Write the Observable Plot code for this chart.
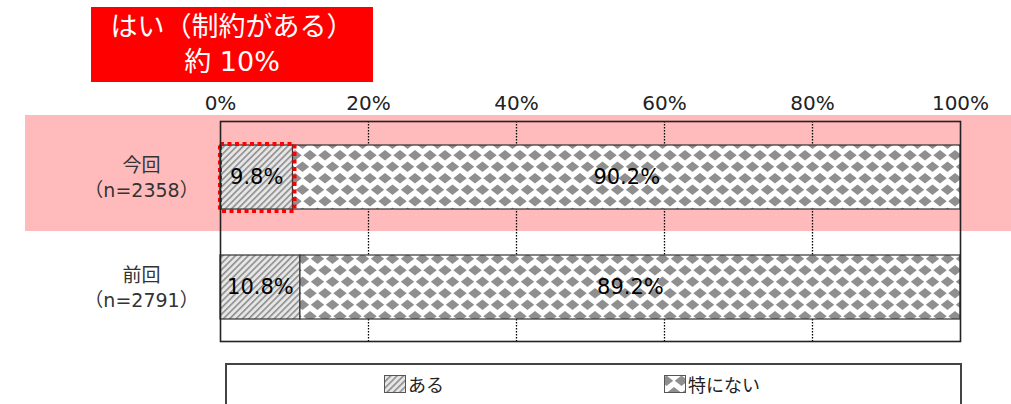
<!DOCTYPE html>
<html><head><meta charset="utf-8">
<script src="https://cdn.jsdelivr.net/npm/d3@7"></script>
<script src="https://cdn.jsdelivr.net/npm/@observablehq/plot@0.6"></script>
<style>
body{margin:0;background:#fff;font-family:"DejaVu Sans","Noto Sans CJK JP",sans-serif;}
#wrap{position:relative;width:1011px;height:404px;overflow:hidden;}
#title{position:absolute;left:91px;top:7px;width:282px;height:75px;background:#ff0000;color:#fff;font-family:"DejaVu Sans","Noto Sans CJK JP",sans-serif;font-size:27px;line-height:35px;text-align:center;padding-top:2px;box-sizing:border-box;}
#legend{position:absolute;left:225px;top:363px;width:737px;height:60px;border:2px solid #444;box-sizing:border-box;background:#fff;}
.li{position:absolute;top:6px;display:flex;align-items:center;font-size:18px;color:#222;font-family:"Noto Sans CJK JP",sans-serif;}
.li svg{margin-right:2px;}
#chart{position:absolute;left:0;top:0;}
</style></head>
<body><div id="wrap"><div id="chart"></div><div id="title"></div><div id="legend"></div></div>
<script>
const titleLines = ["はい（制約がある）", "約 10%"];
const categories = ["今回", "前回"];
const sampleSizes = ["（n=2358）", "（n=2791）"];
const series = ["ある", "特にない"];
const aruValues = [9.8, 10.8];
const tokuniValues = [90.2, 89.2];
const xTicks = [0, 20, 40, 60, 80, 100];
const highlightCategory = "今回";

const rows = [];
categories.forEach((c, i) => {
  rows.push({cat: c, series: series[0], x1: 0, x2: aruValues[i], v: aruValues[i]});
  rows.push({cat: c, series: series[1], x1: aruValues[i], x2: aruValues[i] + tokuniValues[i], v: tokuniValues[i]});
});
const labels = categories.map((c, i) => ({cat: c, text: c + "\n" + sampleSizes[i]}));

const NS = "http://www.w3.org/2000/svg";
const defsMark = () => {
  const g = document.createElementNS(NS, "g");
  g.innerHTML = `<defs>
    <pattern id="hatch" width="4.5" height="4.5" patternUnits="userSpaceOnUse" patternTransform="rotate(45)">
      <rect width="4.5" height="4.5" fill="#e6e6e6"/>
      <rect x="0" width="1.6" height="4.5" fill="#8e8e8e"/>
    </pattern>
    <pattern id="diamond" width="15" height="23" patternUnits="userSpaceOnUse" x="220" y="0">
      <rect width="15" height="23" fill="#fff"/>
      <path d="M7.5,0.6 L14.2,5.75 L7.5,10.9 L0.8,5.75Z" fill="#8f8f8f"/>
      <path d="M0,12.1 L6.7,17.25 L0,22.4 L-6.7,17.25Z M15,12.1 L21.7,17.25 L15,22.4 L8.3,17.25Z" fill="#8f8f8f"/>
    </pattern>
  </defs>`;
  return g;
};

const bandMark = (index, scales, values, dims) => {
  const g = document.createElementNS(NS, "g");
  const y0 = scales.y(categories[0]);
  const bw = scales.y(categories[1]) - y0;
  const top = scales.y(highlightCategory);
  const r = document.createElementNS(NS, "rect");
  r.setAttribute("x", 25); r.setAttribute("width", dims.width - 25);
  r.setAttribute("y", top - 6); r.setAttribute("height", bw + 6);
  r.setAttribute("fill", "#ffbbbb");
  g.appendChild(r);
  return g;
};

const chart = Plot.plot({
  width: 1011, height: 404,
  marginTop: 121, marginLeft: 220, marginRight: 51, marginBottom: 63,
  style: {fontFamily: '"DejaVu Sans", "Noto Sans CJK JP", sans-serif', background: "transparent", overflow: "visible"},
  x: {domain: [0, 100]},
  y: {domain: categories, padding: 0},
  marks: [
    defsMark,
    bandMark,
    Plot.gridX([20, 40, 60, 80], {stroke: "#000", strokeOpacity: 1, strokeDasharray: "1.5,1.5", strokeWidth: 1.3}),
    Plot.barX(rows.filter(d => d.series === series[0]), {x1: "x1", x2: "x2", y: "cat", insetTop: 24, insetBottom: 22, fill: "url(#hatch)", stroke: "#333", strokeWidth: 1.2}),
    Plot.barX(rows.filter(d => d.series === series[1]), {x1: "x1", x2: "x2", y: "cat", insetTop: 24, insetBottom: 22, fill: "url(#diamond)", stroke: "#333", strokeWidth: 1.2}),
    Plot.barX(rows.filter(d => d.series === series[0] && d.cat === highlightCategory), {x1: "x1", x2: "x2", y: "cat", insetTop: 23, insetBottom: 20, insetRight: -2, fill: "none", stroke: "#ff0000", strokeWidth: 4, strokeDasharray: "4,3.5"}),
    Plot.text(rows, {x: d => (d.x1 + d.x2) / 2, y: "cat", text: d => d.v.toFixed(1) + "%", fontSize: 21, fill: "#000", dy: 1}),
    Plot.frame({stroke: "#222", strokeWidth: 1.6}),
    Plot.text(labels, {y: "cat", text: "text", frameAnchor: "left", dx: -79, textAnchor: "middle", fontSize: 19, fill: "#333", lineHeight: 1.32}),
    Plot.axisX({anchor: "top", ticks: xTicks, tickFormat: d => d + "%", tickSize: 0, tickPadding: 12, fontSize: 20, fill: "#222", label: null}),
    Plot.axisY({ticks: [], label: null})
  ]
});
document.getElementById("chart").appendChild(chart);

document.getElementById("title").innerHTML = titleLines.map(t => `<div>${t}</div>`).join("");

const legend = document.getElementById("legend");
const legendX = [157, 437];
const legendFill = ["url(#hatch)", "url(#diamond)"];
series.forEach((s, i) => {
  const d = document.createElement("div");
  d.className = "li";
  d.style.left = legendX[i] + "px";
  d.innerHTML = `<svg width="22" height="18"><rect x="0.5" y="0.5" width="21" height="17" fill="${legendFill[i]}" stroke="#555"/></svg><span>${s}</span>`;
  legend.appendChild(d);
});
</script></body></html>
